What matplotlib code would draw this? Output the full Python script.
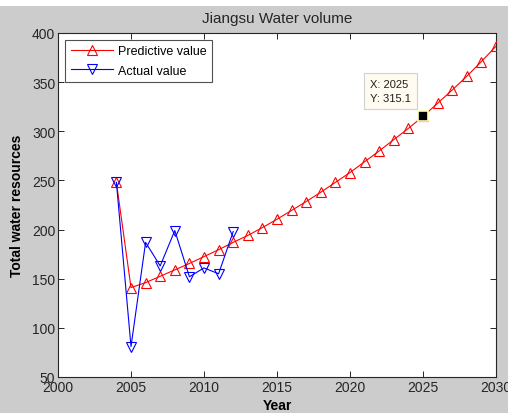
import matplotlib
matplotlib.use("Agg")
import matplotlib.pyplot as plt
from matplotlib.patches import Rectangle

plt.rcParams['font.family'] = ['Liberation Sans', 'DejaVu Sans']

# Forecast (GM-type model) and observed totals, Jiangsu
pred_years = list(range(2004, 2031))
pred_values = [248, 141, 146, 152.5, 159, 165.5, 172.5, 179.5, 187, 194,
               202, 210.5, 219.5, 228.5, 238, 248, 258, 269, 280, 291.5,
               303, 315.1, 328.5, 342, 356, 371, 386.5]

actual_years = list(range(2004, 2013))
actual_values = [248, 81, 187, 163, 199, 152, 161, 155, 198]

tip_year = 2025
tip_value = 315.1

x_ticks = [2000, 2005, 2010, 2015, 2020, 2025, 2030]
y_ticks = [50, 100, 150, 200, 250, 300, 350, 400]

W, H = 508, 414
fig = plt.figure(figsize=(W / 100, H / 100), dpi=100)
fig.patch.set_facecolor('#cccccc')
# white strip along the top edge
fig.patches.append(Rectangle((0, 1 - 7 / H), 1, 7 / H, transform=fig.transFigure,
                             facecolor='white', edgecolor='none', zorder=-1))

ax = fig.add_axes([58 / W, 1 - 378 / H, (496 - 58) / W, (378 - 34) / H])
ax.set_facecolor('white')

ax.plot(pred_years, pred_values, '-', color='red', lw=0.8, marker='^', ms=7,
        mfc='none', mec='red', mew=0.8, label='Predictive value', zorder=3)
ax.plot(actual_years, actual_values, '-', color='blue', lw=0.8, marker='v', ms=7,
        mfc='none', mec='blue', mew=0.8, label='Actual value', zorder=4)

# data tip
ax.plot([tip_year], [tip_value], 's', color='black', ms=6.5, mec='#ffffb0', mew=1.2,
        zorder=6)
ax.text(2021.35, 341, 'X: %d\nY: %.1f' % (tip_year, tip_value), fontsize=8,
        color='#202020', ha='left', va='center', linespacing=1.45, zorder=7,
        bbox=dict(boxstyle='square,pad=0.55', fc='#fffbf0', ec='#d0d0d0', lw=0.8))

ax.set_xlim(2000, 2030)
ax.set_ylim(50, 400)
ax.set_xticks(x_ticks)
ax.set_yticks(y_ticks)
ax.tick_params(direction='in', length=4, width=0.7, top=True, right=True,
               labelsize=10, colors='#262626', pad=2)
for s in ax.spines.values():
    s.set_linewidth(0.8)
    s.set_color('#262626')

ax.set_title('Jiangsu Water volume', fontsize=11, color='#262626', pad=8)
ax.set_xlabel('Year', fontsize=10, fontweight='bold', labelpad=3)
ax.set_ylabel('Total water resources', fontsize=10, fontweight='bold', labelpad=6)

leg = ax.legend(loc='upper left', bbox_to_anchor=(0.016, 0.981), fontsize=9,
                frameon=True, fancybox=False, handlelength=3.4, borderpad=0.45,
                labelspacing=0.6, handletextpad=0.35, borderaxespad=0)
leg.get_frame().set_edgecolor('#262626')
leg.get_frame().set_linewidth(0.8)

fig.savefig('out.png', dpi=100, facecolor=fig.get_facecolor())
